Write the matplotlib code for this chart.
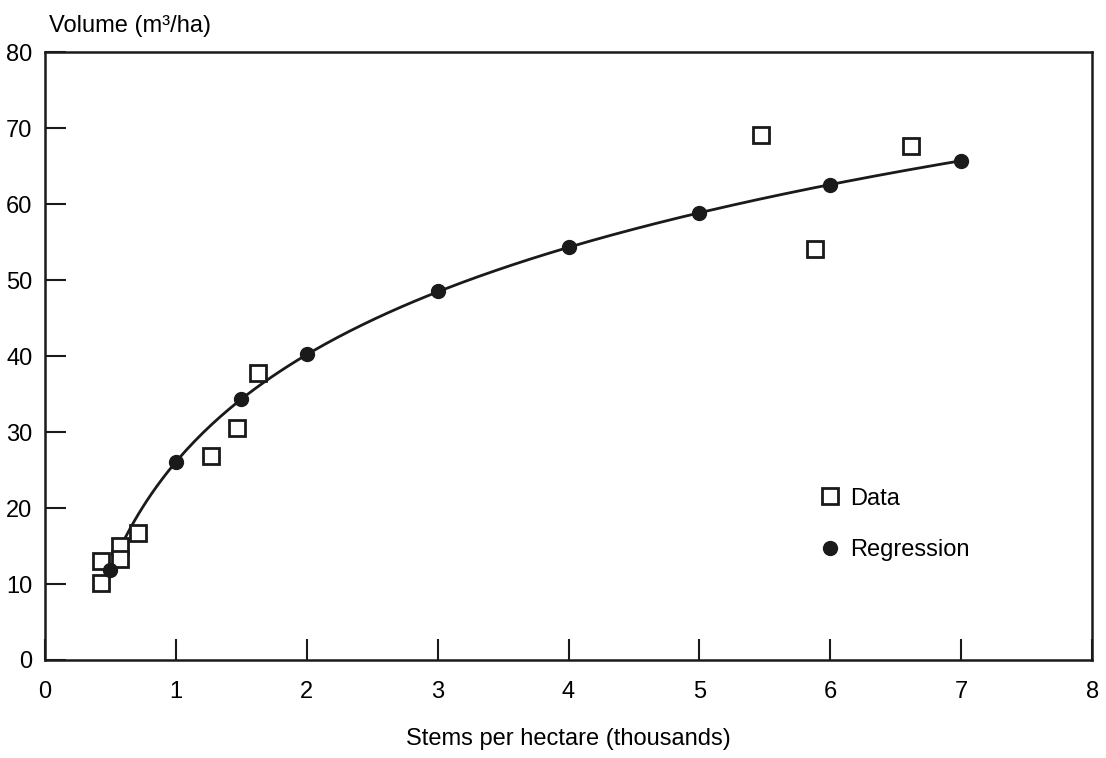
import numpy as np
from matplotlib import pyplot as plt

plt.rcParams['font.family'] = ['Liberation Sans', 'DejaVu Sans']

# measured data (thousands of stems/ha, m3/ha)
data_x = [0.43, 0.43, 0.57, 0.57, 0.71, 1.27, 1.47, 1.63, 5.47, 5.88, 6.62]
data_y = [13.0, 10.1, 15.0, 13.3, 16.7, 26.9, 30.5, 37.8, 69.1, 54.1, 67.7]

# regression estimates
reg_x = [0.5, 1, 1.5, 2, 3, 4, 5, 6, 7]
reg_y = [11.8, 26.1, 34.4, 40.3, 48.5, 54.4, 58.8, 62.5, 65.6]

xticks = [0, 1, 2, 3, 4, 5, 6, 7, 8]
yticks = [0, 10, 20, 30, 40, 50, 60, 70, 80]

fig = plt.figure(figsize=(11.06, 7.58), dpi=100)
ax = fig.add_axes([0.0407, 0.1293, 0.9467, 0.802])

# regression curve: y = a + b*ln(x)
b, a = np.polyfit(np.log(reg_x), reg_y, 1)
cx = np.linspace(0.45, 7, 200)
ax.plot(cx, a + b * np.log(cx), color='#1a1a1a', lw=2.0, zorder=2)

ax.plot(data_x, data_y, ls='none', marker='s', ms=11, mfc='white',
        mec='#1a1a1a', mew=2.0, label='Data', zorder=3)
ax.plot(reg_x, reg_y, ls='none', marker='o', ms=10, color='#1a1a1a',
        label='Regression', zorder=4)

ax.set_xlim(0, 8)
ax.set_ylim(0, 80)
ax.set_xticks(xticks)
ax.set_yticks(yticks)
ax.set_xticklabels([str(v) for v in xticks])
ax.set_yticklabels([str(v) for v in yticks])
ax.tick_params(axis='x', direction='in', length=15, width=1.5, pad=15,
               labelsize=17, color='#1a1a1a')
ax.tick_params(axis='y', direction='in', length=15, width=1.5, pad=9,
               labelsize=17, color='#1a1a1a')
for s in ax.spines.values():
    s.set_linewidth(1.8)
    s.set_color('#1a1a1a')

ax.set_xlabel('Stems per hectare (thousands)', fontsize=17, labelpad=18)
fig.text(0.044, 0.958, 'Volume (m³/ha)', fontsize=17, ha='left',
         va='baseline')

ax.legend(loc='center left', bbox_to_anchor=(0.718, 0.223), frameon=False,
          fontsize=17, handlelength=1.0, handletextpad=0.35,
          labelspacing=1.25, numpoints=1)

fig.savefig('out.png', dpi=100)
